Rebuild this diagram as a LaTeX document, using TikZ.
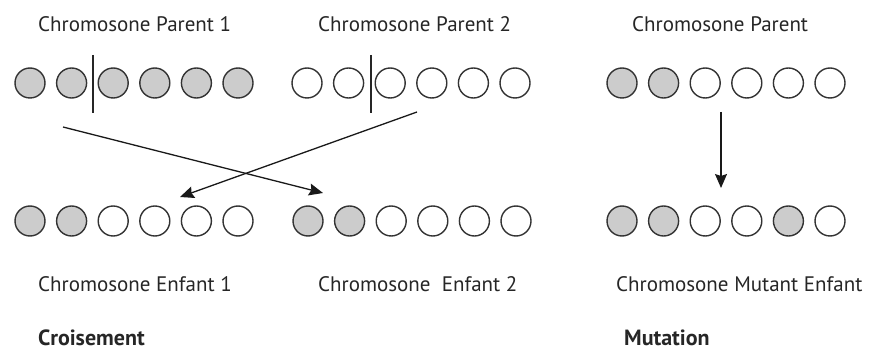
\documentclass[tikz,border=0pt]{standalone}
\usepackage{fontspec}
\setmainfont{PT Sans}
\usetikzlibrary{arrows.meta,positioning}
\begin{document}
\begin{tikzpicture}[x=1pt,y=-1pt,
   gene/.style={circle,draw=black!80,line width=1.4pt,minimum size=30pt,inner sep=0pt},
   full/.style={gene,fill=black!20},
   empty/.style={gene,fill=white},
   txt/.style={anchor=base west,inner sep=0pt,text=black!85,font=\fontsize{21}{24}\selectfont},
   heading/.style={txt,font=\fontsize{22}{24}\selectfont\bfseries},
   cut/.style={line width=1.4pt,black!85},
   link/.style={-{Stealth[length=14pt,width=12pt,inset=2pt]},line width=1.3pt,black!90}]
   \useasboundingbox (0,0) rectangle (874,352);
   % parents
   \foreach \i in {1,...,6} {
     \node[full]  (pa\i) at ({30+41.6*(\i-1)},83) {};
     \node[empty] (pb\i) at ({307+41.6*(\i-1)},83) {};
   }
   \foreach \i/\s in {1/full,2/full,3/empty,4/empty,5/empty,6/empty} {
     \node[\s] (pm\i) at ({622+41.6*(\i-1)},83) {};
     \node[\s] (ea\i) at ({30+41.6*(\i-1)},221) {};
     \node[\s] (eb\i) at ({308+41.6*(\i-1)},221) {};
   }
   % mutant child
   \foreach \i/\s in {1/full,2/full,3/empty,4/empty,5/full,6/empty}
     \node[\s] (em\i) at ({622+41.6*(\i-1)},221) {};
   % crossing points
   \draw[cut] (93,55) -- (93,113);
   \draw[cut] (371,55) -- (371,113);
   \coordinate (xa) at (63,127);
   \coordinate (xb) at (323,193);
   \coordinate (ya) at (417,112);
   \coordinate (yb) at (180,197);
   \coordinate (ma) at (721,112);
   \coordinate (mb) at (721,188);
   \draw[link] (xa) -- (xb);
   \draw[link] (ya) -- (yb);
   \draw[link] (ma) -- (mb);
   % labels
   \node[txt] (tpa) at (38,32) {Chromosone Parent 1};
   \node[txt] (tpb) at (318,32) {Chromosone Parent 2};
   \node[txt] (tpm) at (632,32) {Chromosone Parent};
   \node[txt] (tea) at (38,291) {Chromosone Enfant 1};
   \node[txt] (teb) at (318,291) {Chromosone\ \ Enfant 2};
   \node[txt] (tem) at (616,291) {Chromosone Mutant Enfant};
   \node[heading] (cro) at (38,345) {Croisement};
   \node[heading] (mut) at (624,345) {Mutation};
\end{tikzpicture}
\end{document}
